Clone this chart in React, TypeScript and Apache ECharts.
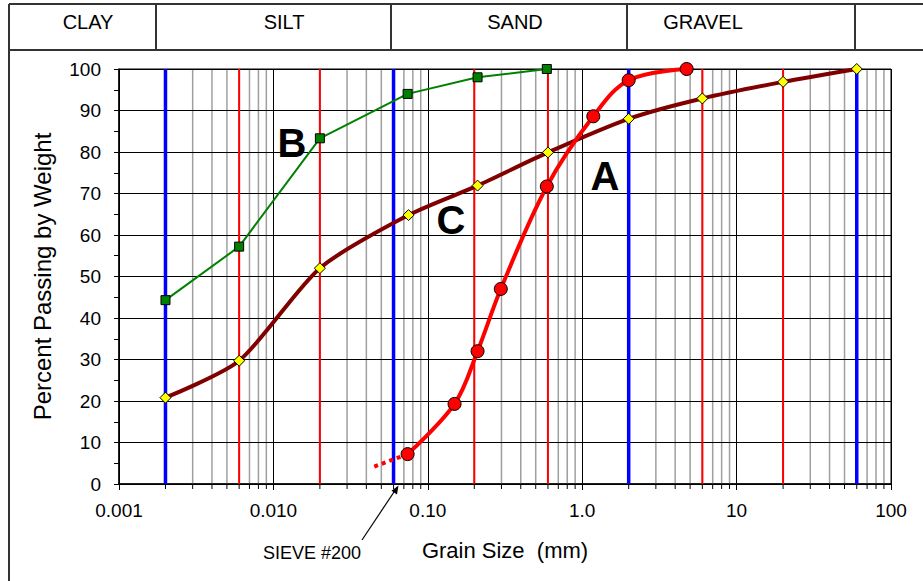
import React, { useEffect, useRef } from "react";
import * as echarts from "echarts";

// ---- data ----
const xTickValues = [0.001, 0.01, 0.1, 1, 10, 100];
const xTickLabels = ["0.001", "0.010", "0.10", "1.0", "10", "100"];

const sampleAGrain = [0.074, 0.149, 0.21, 0.297, 0.59, 1.18, 2.0, 4.75];
const sampleAPassing = [7.2, 19.3, 32.0, 47.0, 71.7, 88.6, 97.3, 100];
const sampleAExtGrain = [0.045, 0.074];
const sampleAExtPassing = [4.2, 7.2];

const sampleBGrain = [0.002, 0.006, 0.02, 0.074, 0.21, 0.59];
const sampleBPassing = [44.3, 57.2, 83.3, 94.0, 98.0, 100];

const sampleCGrain = [0.002, 0.006, 0.02, 0.075, 0.21, 0.6, 2.0, 6.0, 20, 60];
const sampleCPassing = [20.8, 29.7, 52.0, 64.8, 71.9, 79.9, 88.0, 92.9, 96.9, 100];

const boundaryBlue = [0.002, 0.06, 2, 60];
const boundaryRed = [0.006, 0.02, 0.2, 0.6, 6, 20];

const soilClasses = ["CLAY", "SILT", "SAND", "GRAVEL"];
const curveNames = ["A", "B", "C"];

const FONT = "'Liberation Sans', Arial, Helvetica, sans-serif";

const zip = (xs: number[], ys: number[]) => xs.map((x, i) => [x, ys[i]]);

// minor log grid positions (2..9 x 10^n)
const minorGrid: number[] = [];
for (let e = -3; e <= 1; e++) {
  for (let k = 2; k <= 9; k++) minorGrid.push(Number((k * Math.pow(10, e)).toPrecision(6)));
}

export default function App() {
  const ref = useRef<HTMLDivElement>(null);

  useEffect(() => {
    if (!ref.current) return;
    const chart = echarts.init(ref.current, null, { renderer: "svg" });

    const vline = (color: string, width: number, tick: boolean) => (params: any, api: any) => {
      const x = api.value(0);
      const top = api.coord([x, 100]);
      const bot = api.coord([x, 0]);
      const children: any[] = [
        {
          type: "line",
          shape: { x1: bot[0], y1: bot[1], x2: top[0], y2: top[1] },
          style: { stroke: color, lineWidth: width },
        },
      ];
      if (tick) {
        children.push({
          type: "line",
          shape: { x1: bot[0], y1: bot[1], x2: bot[0], y2: bot[1] + 5 },
          style: { stroke: "#000", lineWidth: 1 },
        });
      }
      return { type: "group", children };
    };

    const headerLine = (x1: number, y1: number, x2: number, y2: number) => ({
      type: "line",
      shape: { x1, y1, x2, y2 },
      style: { stroke: "#333", lineWidth: 2 },
      z: 20,
    });

    const headerCenters = [88, 284, 515, 703];
    const letterPos = [
      [605, 176],
      [292, 143],
      [451, 220],
    ];

    const option: any = {
      animation: false,
      textStyle: { fontFamily: FONT },
      grid: {
        left: 119,
        right: 32,
        top: 69,
        bottom: 97,
        show: true,
        borderColor: "#000",
        borderWidth: 1,
        backgroundColor: "transparent",
      },
      xAxis: {
        type: "log",
        logBase: 10,
        min: 0.001,
        max: 100,
        splitNumber: 5,
        z: 3,
        name: "Grain Size  (mm)",
        nameLocation: "middle",
        nameGap: 55,
        nameTextStyle: { fontSize: 22, color: "#000", fontFamily: FONT },
        axisLine: { lineStyle: { color: "#000", width: 1.5 } },
        axisTick: { show: true, length: 6, lineStyle: { color: "#000" } },
        minorTick: { show: false },
        splitLine: { show: true, lineStyle: { color: "#000", width: 1 } },
        axisLabel: {
          fontSize: 19,
          color: "#000",
          margin: 17,
          fontFamily: FONT,
          formatter: (v: number) => {
            const i = xTickValues.findIndex((t) => Math.abs(Math.log10(t) - Math.log10(v)) < 1e-6);
            return i >= 0 ? xTickLabels[i] : "";
          },
        },
      },
      yAxis: {
        type: "value",
        min: 0,
        max: 100,
        interval: 10,
        z: 3,
        name: "Percent Passing by Weight",
        nameLocation: "middle",
        nameRotate: 90,
        nameGap: 65,
        nameTextStyle: { fontSize: 24, color: "#000", fontFamily: FONT },
        axisLine: { show: true, lineStyle: { color: "#000", width: 1.5 } },
        axisTick: { show: true, length: 5, lineStyle: { color: "#000" } },
        minorTick: { show: true, splitNumber: 2, length: 5, lineStyle: { color: "#000" } },
        minorSplitLine: { show: false },
        splitLine: { show: true, lineStyle: { color: "#000", width: 1 } },
        axisLabel: { fontSize: 19, color: "#000", margin: 18, fontFamily: FONT },
      },
      series: [
        {
          type: "custom",
          name: "minorGrid",
          z: 1,
          clip: false,
          silent: true,
          encode: { x: 0, y: 1 },
          data: minorGrid.map((x) => [x, 0]),
          renderItem: vline("#9f9f9f", 1.5, true),
        },
        {
          type: "custom",
          name: "redBoundaries",
          z: 4,
          silent: true,
          encode: { x: 0, y: 1 },
          data: boundaryRed.map((x) => [x, 0]),
          renderItem: vline("#ff0000", 2, false),
        },
        {
          type: "custom",
          name: "blueBoundaries",
          z: 4,
          silent: true,
          encode: { x: 0, y: 1 },
          data: boundaryBlue.map((x) => [x, 0]),
          renderItem: vline("#0000ff", 3.5, false),
        },
        {
          type: "line",
          name: "C",
          z: 6,
          smooth: 0.25,
          data: zip(sampleCGrain, sampleCPassing),
          symbol: "diamond",
          symbolSize: 11,
          itemStyle: { color: "#ffff00", borderColor: "#000", borderWidth: 1 },
          lineStyle: { color: "#800000", width: 4 },
        },
        {
          type: "line",
          name: "B",
          z: 6,
          smooth: false,
          data: zip(sampleBGrain, sampleBPassing),
          symbol: "rect",
          symbolSize: 9,
          itemStyle: { color: "#008000", borderColor: "#000", borderWidth: 1 },
          lineStyle: { color: "#008000", width: 2 },
        },
        {
          type: "line",
          name: "A-ext",
          z: 6,
          data: zip(sampleAExtGrain, sampleAExtPassing),
          symbol: "none",
          lineStyle: { color: "#ff0000", width: 4, type: [4, 4], cap: "butt" },
        },
        {
          type: "line",
          name: "A",
          z: 7,
          smooth: 0.35,
          data: zip(sampleAGrain, sampleAPassing),
          symbol: "circle",
          symbolSize: 13,
          itemStyle: { color: "#ff0000", borderColor: "#000", borderWidth: 1 },
          lineStyle: { color: "#ff0000", width: 4 },
        },
      ],
      graphic: [
        headerLine(9, 4, 923, 4),
        headerLine(9, 50, 923, 50),
        headerLine(9, 4, 9, 581),
        headerLine(156, 4, 156, 50),
        headerLine(391, 4, 391, 50),
        headerLine(627, 4, 627, 50),
        headerLine(855, 4, 855, 50),
        ...soilClasses.map((t, i) => ({
          type: "text",
          x: headerCenters[i],
          y: 22,
          z: 20,
          style: {
            text: t,
            fontSize: 20,
            fontFamily: FONT,
            fill: "#000",
            textAlign: "center",
            textVerticalAlign: "middle",
          },
        })),
        ...curveNames.map((t, i) => ({
          type: "text",
          x: letterPos[i][0],
          y: letterPos[i][1],
          z: 20,
          style: {
            text: t,
            fontSize: 40,
            fontWeight: "bold",
            fontFamily: FONT,
            fill: "#000",
            textAlign: "center",
            textVerticalAlign: "middle",
          },
        })),
        {
          type: "text",
          x: 312,
          y: 553,
          z: 20,
          style: {
            text: "SIEVE #200",
            fontSize: 18,
            fontFamily: FONT,
            fill: "#000",
            textAlign: "center",
            textVerticalAlign: "middle",
          },
        },
        {
          type: "line",
          z: 20,
          shape: { x1: 362, y1: 540, x2: 396, y2: 489 },
          style: { stroke: "#000", lineWidth: 1.2 },
        },
        {
          type: "polygon",
          z: 20,
          shape: {
            points: [
              [398.5, 485.5],
              [397, 494.5],
              [391.5, 490.8],
            ],
          },
          style: { fill: "#000" },
        },
      ],
    };

    chart.setOption(option);
    return () => chart.dispose();
  }, []);

  return (
    <div
      ref={ref}
      style={{ position: "fixed", left: 0, top: 0, width: 923, height: 581, background: "#fff" }}
    />
  );
}
